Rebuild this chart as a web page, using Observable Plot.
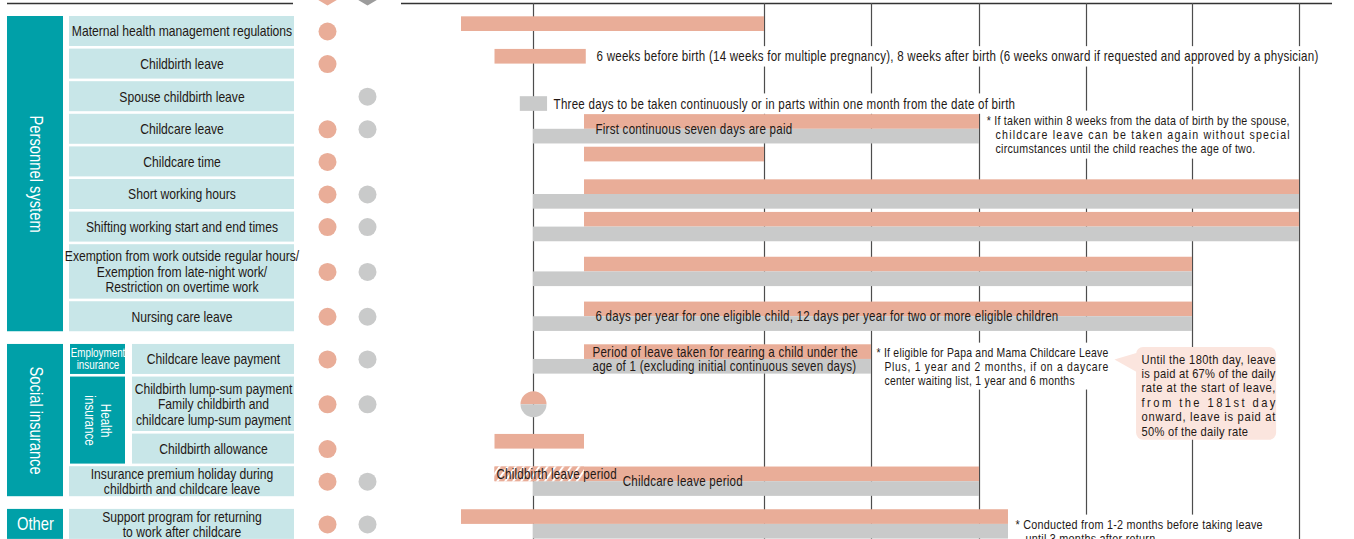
<!DOCTYPE html>
<html><head><meta charset="utf-8">
<script src="https://cdn.jsdelivr.net/npm/d3@7"></script>
<script src="https://cdn.jsdelivr.net/npm/@observablehq/plot@0.6"></script>
<style>
html,body{margin:0;padding:0;background:#fff;}
#chart{position:relative;width:1354px;height:539px;overflow:hidden;background:#fff;}
#chart svg{position:absolute;left:0;top:0;}
</style></head>
<body><div id="chart"></div>
<script>
// ---------------- DATA ----------------
const rowLabels = [
  "Maternal health management regulations",
  "Childbirth leave",
  "Spouse childbirth leave",
  "Childcare leave",
  "Childcare time",
  "Short working hours",
  "Shifting working start and end times",
  "Exemption from work outside regular hours/\nExemption from late-night work/\nRestriction on overtime work",
  "Nursing care leave",
  "Childcare leave payment",
  "Childbirth lump-sum payment\nFamily childbirth and\nchildcare lump-sum payment",
  "Childbirth allowance",
  "Insurance premium holiday during\nchildbirth and childcare leave",
  "Support program for returning\nto work after childcare"
];
const rowGroups = [
  "Personnel system","Personnel system","Personnel system","Personnel system","Personnel system",
  "Personnel system","Personnel system","Personnel system","Personnel system",
  "Social insurance","Social insurance","Social insurance","Social insurance",
  "Other"
];
const rowSubgroups = [null,null,null,null,null,null,null,null,null,
  "Employment\ninsurance","Health\ninsurance","Health\ninsurance",null,null];
const who = ["Women", "Men"];
const forWomen = [1,1,0,1,1,1,1,1,1,1,1,1,1,1];
const forMen   = [0,0,1,1,0,1,1,1,1,1,1,0,1,1];
// bar extents, in months from birth (schematic time axis)
const womenStart = [-9.5, -1.4, null, 1.85, 1.85, 1.85, 1.85, 1.85, 1.85, 1.85, null, -1.4, -1.4, -9.5];
const womenEnd   = [12,   1.95, null, 24,   12,   108,  108,  72,   72,   18,   null, 1.85, 24,   27.25];
const menStart   = [null, null, -0.48, 0, null, 0,   0,   0,  0,  0,  null, null, 0,  0];
const menEnd     = [null, null, 0.51, 24, null, 108, 108, 72, 72, 18, null, null, 24, 27.25];
const lumpSumMonths = [0];            // one-off payment at birth (row "Childbirth lump-sum payment")
const childbirthLeavePeriod = [-1.4, 1.85];   // hatched part of the premium holiday bar
const milestoneMonths = [0, 12, 18, 24, 36, 72, 108];

const inlineNotes = [
  {row: 1, lane: "women", month: 2.53, text: "6 weeks before birth (14 weeks for multiple pregnancy), 8 weeks after birth (6 weeks onward if requested and approved by a physician)", halo: true},
  {row: 2, lane: "men", month: 0.73, text: "Three days to be taken continuously or in parts within one month from the date of birth", halo: true},
  {row: 3, lane: "mid", month: 2.47, text: "First continuous seven days are paid"},
  {row: 8, lane: "mid", month: 2.47, text: "6 days per year for one eligible child, 12 days per year for two or more eligible children"},
  {row: 9, lane: "women", month: 2.3, text: "Period of leave taken for rearing a child under the"},
  {row: 9, lane: "men", month: 2.3, text: "age of 1 (excluding initial continuous seven days)"},
  {row: 12, lane: "women", month: -1.35, text: "Childbirth leave period"},
  {row: 12, lane: "mid", month: 4.0, text: "Childcare leave period"}
];
const noteAgain = ["* If taken within 8 weeks from the data of birth by the spouse,",
  "childcare leave can be taken again without special",
  "circumstances until the child reaches the age of two."];
const notePapa = ["* If eligible for Papa and Mama Childcare Leave",
  "Plus, 1 year and 2 months, if on a daycare",
  "center waiting list, 1 year and 6 months"];
const noteSupport = ["* Conducted from 1-2 months before taking leave",
  "until 3 months after return"];
const calloutLines = ["Until the 180th day, leave", "is paid at 67% of the daily",
  "rate at the start of leave,", "from the 181st day", "onward, leave is paid at",
  "50% of the daily rate"];

// ---------------- LAYOUT / STYLE ----------------
const W = 1354, H = 539;
const SALMON = "#e9ad98", GRAY = "#c9caca", TEAL = "#00a0a8", LIGHT = "#c8e6e8",
      CALLOUT = "#fbe5de", INK = "#231815", GRID = "#4d4d4d", CHEVRON_GRAY = "#9c9c9c";
const FONT = "'Liberation Sans',Arial,sans-serif";
const CONDENSE = 0.82;   // emulate a condensed face
const TOP_PX = 16, SLOT_PX = 32.6;
const TALL = 1.75, GROUP_GAP = 0.31, BOX_GAP = 0.08, LANE = 0.45, LINE_STEP = 0.44;
const HEADER_Y = -0.4;
const COL = {group: [7, 63], sub: [70, 125], label: [69, 294], labelSub: [132, 294],
             header: [[7, 293], [401, 1332]], dots: [327, 367]};
const X_DOMAIN = [-9.5, -1.4, 0, 1.85, 12, 18, 24, 36, 72, 108];
const X_RANGE  = [461, 494.5, 533, 584, 764, 871, 979, 1086, 1192, 1299];
const NOTE_POS = {
  again:   {month: 24.8, indent: 25.8, y: 3.19},
  papa:    {month: 18.28, indent: 18.72, y: 10.31},
  support: {month: 28.04, indent: 29.16, y: 15.58},
  callout: {month: 54.7, y: 10.52, box: [53, 100.3, 10.15, 13.0], tip: 45.5}
};

// rows with derived vertical slots
let cursor = 0;
const rows = rowLabels.map((label, i) => {
  if (i > 0 && rowGroups[i] !== rowGroups[i - 1]) cursor += GROUP_GAP;
  const h = label.split("\n").length >= 3 ? TALL : 1;
  const r = {i, label, group: rowGroups[i], sub: rowSubgroups[i], top: cursor, bottom: cursor + h - BOX_GAP};
  r.mid = (r.top + r.bottom) / 2;
  cursor += h;
  return r;
});
const spanOf = (key) => d3.groups(rows.filter(r => r[key]), r => r[key]).map(([name, rs]) => ({
  name, top: rs[0].top, bottom: rs[rs.length - 1].bottom,
  mid: (rs[0].top + rs[rs.length - 1].bottom) / 2, rotate: rs.length > 1
}));
const groupBoxes = spanOf("group");
const subBoxes = spanOf("sub");

const Y_SCALE = {type: "linear", domain: [0, 1], range: [TOP_PX, TOP_PX + SLOT_PX], axis: null};
const laneY = (r, lane) => lane === "women" ? r.mid - LANE / 2 : lane === "men" ? r.mid + LANE / 2 : r.mid;

const bars = [];
const dots = [];
rows.forEach((r, i) => {
  if (womenStart[i] != null) bars.push({who: "Women", start: womenStart[i], end: womenEnd[i], y1: r.mid - LANE, y2: r.mid});
  if (menStart[i] != null) bars.push({who: "Men", start: menStart[i], end: menEnd[i], y1: r.mid, y2: r.mid + LANE});
  if (forWomen[i]) dots.push({who: "Women", y: r.mid});
  if (forMen[i]) dots.push({who: "Men", y: r.mid});
});
const lumpRow = rows[10];
const premiumRow = rows[12];

const blockLines = (lines, pos) => lines.map((t, k) => ({text: t, month: k === 0 ? pos.month : pos.indent, y: pos.y + k * LINE_STEP}));

// custom symbols
const chevron = {draw(ctx) { ctx.moveTo(-13.5, -3); ctx.lineTo(13.5, -3); ctx.lineTo(0, 5); ctx.closePath(); }};
const halfTop = {draw(ctx, size) { const r = Math.sqrt(size / Math.PI); ctx.moveTo(-r, 0); ctx.arc(0, 0, r, Math.PI, 2 * Math.PI); ctx.closePath(); }};
const halfBottom = {draw(ctx, size) { const r = Math.sqrt(size / Math.PI); ctx.moveTo(r, 0); ctx.arc(0, 0, r, 0, Math.PI); ctx.closePath(); }};

const baseStyle = {background: "transparent", fontFamily: FONT, color: INK, overflow: "visible"};

// ---------------- TABLE (left) ----------------
const table = Plot.plot({
  width: W, height: H, margin: 0,
  style: {...baseStyle, background: "#fff"},
  x: {type: "identity"},
  y: Y_SCALE,
  marks: [
    Plot.ruleY(COL.header, {y: () => HEADER_Y, x1: d => d[0], x2: d => d[1], stroke: "#333", strokeWidth: 1.5}),
    Plot.rect(groupBoxes, {x1: () => COL.group[0], x2: () => COL.group[1], y1: "top", y2: "bottom", fill: TEAL}),
    Plot.rect(subBoxes, {x1: () => COL.sub[0], x2: () => COL.sub[1], y1: "top", y2: "bottom", fill: TEAL}),
    Plot.rect(rows, {x1: d => d.sub ? COL.labelSub[0] : COL.label[0], x2: () => COL.label[1], y1: "top", y2: "bottom", fill: LIGHT}),
    Plot.text(rows, {x: d => ((d.sub ? COL.labelSub[0] : COL.label[0]) + COL.label[1]) / 2, y: "mid", text: "label",
      fontSize: 14.8, lineHeight: 1.05, fill: INK}),
    Plot.text(groupBoxes.filter(d => d.rotate), {x: () => (COL.group[0] + COL.group[1]) / 2, y: "mid", text: "name",
      rotate: 90, fill: "white", fontSize: 18}),
    Plot.text(groupBoxes.filter(d => !d.rotate), {x: () => (COL.group[0] + COL.group[1]) / 2, y: "mid", text: "name",
      fill: "white", fontSize: 18}),
    Plot.text(subBoxes.filter(d => d.rotate), {x: () => (COL.sub[0] + COL.sub[1]) / 2, y: "mid", text: "name",
      rotate: 90, fill: "white", fontSize: 14.2, lineHeight: 1.15}),
    Plot.text(subBoxes.filter(d => !d.rotate), {x: () => (COL.sub[0] + COL.sub[1]) / 2, y: "mid", text: "name",
      fill: "white", fontSize: 12, lineHeight: 1.0})
  ]
});

// ---------------- ELIGIBILITY DOTS ----------------
const dotsPlot = Plot.plot({
  width: W, height: H, margin: 0,
  style: baseStyle,
  x: {type: "point", domain: who, range: COL.dots, padding: 0, axis: null},
  y: Y_SCALE,
  color: {domain: who, range: [SALMON, GRAY]},
  marks: [
    Plot.dot(["Women"], {x: d => d, frameAnchor: "top", symbol: chevron, r: 5, fill: SALMON}),
    Plot.dot(["Men"], {x: d => d, frameAnchor: "top", symbol: chevron, r: 5, fill: CHEVRON_GRAY}),
    Plot.dot(dots, {x: "who", y: "y", r: 9, fill: "who"})
  ]
});

// ---------------- TIMELINE ----------------
const note = (data, opts) => Plot.text(data, {textAnchor: "start", fill: INK, fontSize: 14.1, ...opts});
const tl = Plot.plot({
  width: W, height: H, margin: 0, marginTop: 3,
  style: {...baseStyle, letterSpacing: "0.3px"},
  x: {type: "linear", domain: X_DOMAIN, range: X_RANGE, axis: null},
  y: Y_SCALE,
  color: {domain: who, range: [SALMON, GRAY]},
  marks: [
    Plot.ruleX(milestoneMonths, {stroke: GRID, strokeWidth: 1.2}),
    Plot.rect(bars, {x1: "start", x2: "end", y1: "y1", y2: "y2", fill: "who"}),
    Plot.rect([childbirthLeavePeriod], {x1: d => d[0], x2: d => d[1], y1: () => premiumRow.mid - LANE, y2: () => premiumRow.mid, fill: "url(#hatch)"}),
    Plot.dot(lumpSumMonths, {x: d => d, y: () => lumpRow.mid, r: 13, symbol: halfTop, fill: SALMON}),
    Plot.dot(lumpSumMonths, {x: d => d, y: () => lumpRow.mid, r: 13, symbol: halfBottom, fill: GRAY}),
    Plot.line([{m: NOTE_POS.callout.tip, y: rows[9].mid}, {m: NOTE_POS.callout.box[0] + 0.8, y: rows[9].mid - 0.22},
               {m: NOTE_POS.callout.box[0] + 0.8, y: rows[9].mid + 0.42}], {x: "m", y: "y", fill: CALLOUT, stroke: "none"}),
    Plot.rect([NOTE_POS.callout.box], {x1: d => d[0], x2: d => d[1], y1: d => d[2], y2: d => d[3], fill: CALLOUT, rx: 7}),
    ...inlineNotes.map(n => note([n], {x: "month", y: () => laneY(rows[n.row], n.lane), text: "text", className: n.halo ? "halo" : "plain"})),
    note(blockLines(noteAgain, NOTE_POS.again), {x: "month", y: "y", text: "text", fontSize: 13, className: "halo justify"}),
    note(blockLines(notePapa, NOTE_POS.papa), {x: "month", y: "y", text: "text", fontSize: 12.7, className: "halo justify"}),
    note(blockLines(noteSupport, NOTE_POS.support), {x: "month", y: "y", text: "text", fontSize: 13.2, className: "halo justify"}),
    note(calloutLines.map((t, k) => ({text: t, y: NOTE_POS.callout.y + k * LINE_STEP})),
      {x: () => NOTE_POS.callout.month, y: "y", text: "text", fontSize: 13.6, className: "justify"})
  ]
});

const chart = document.getElementById("chart");
chart.append(table, dotsPlot, tl);

// ---------------- POST-PROCESS (condensed type, pattern, justification, text backgrounds) ----------------
function condense(svg, sx) {
  svg.querySelectorAll("text").forEach(t => {
    const tr = t.getAttribute("transform") || "";
    t.setAttribute("transform", `${tr} scale(${sx},1)`);
    const x = parseFloat(t.getAttribute("x"));
    if (x && isFinite(x)) t.setAttribute("x", x / sx);
  });
}
[table, dotsPlot, tl].forEach(s => condense(s, CONDENSE));

const NS = "http://www.w3.org/2000/svg";
const defs = document.createElementNS(NS, "defs");
defs.innerHTML = `<pattern id="hatch" patternUnits="userSpaceOnUse" width="6.5" height="6.5" patternTransform="rotate(35)">
  <rect width="6.5" height="6.5" fill="${SALMON}"/><rect width="2" height="6.5" fill="#fff"/></pattern>`;
tl.insertBefore(defs, tl.firstChild);

const box = tl.getBoundingClientRect();
tl.querySelectorAll("g.justify").forEach(g => {
  const texts = [...g.querySelectorAll("text")];
  const rs = texts.map(t => t.getBoundingClientRect());
  const maxRight = d3.max(rs, r => r.right);
  texts.slice(0, -1).forEach((t, k) => {
    t.setAttribute("textLength", ((maxRight - rs[k].left) / CONDENSE).toFixed(1));
    t.setAttribute("lengthAdjust", "spacing");
  });
});
const gridGroup = tl.querySelector('g[aria-label="rule"]');
tl.querySelectorAll("g.halo").forEach(g => {
  const rs = [...g.querySelectorAll("text")].map(t => t.getBoundingClientRect());
  const x0 = d3.min(rs, r => r.left) - box.left - 3, x1 = d3.max(rs, r => r.right) - box.left + 3;
  const y0 = d3.min(rs, r => r.top) - box.top - 2, y1 = d3.max(rs, r => r.bottom) - box.top + 2;
  const rect = document.createElementNS(NS, "rect");
  rect.setAttribute("x", x0); rect.setAttribute("y", y0);
  rect.setAttribute("width", x1 - x0); rect.setAttribute("height", y1 - y0);
  rect.setAttribute("fill", "#fff");
  if (gridGroup) gridGroup.after(rect);
});
</script>
</body></html>
